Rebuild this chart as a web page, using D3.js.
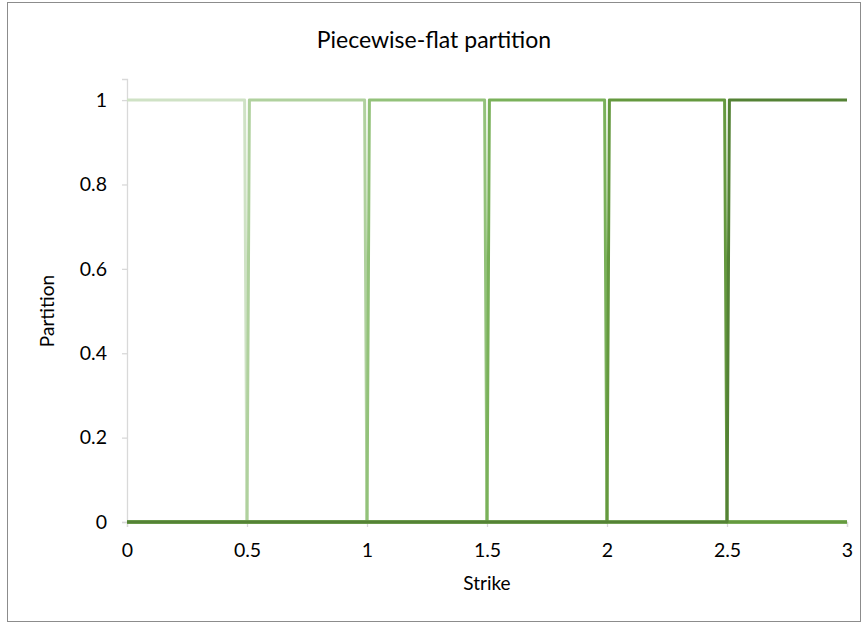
<!DOCTYPE html>
<html><head><meta charset="utf-8">
<script src="https://cdn.jsdelivr.net/npm/d3@7"></script>
<style>body{margin:0;background:#fff}svg{display:block}text{font-family:Lato,"Liberation Sans",sans-serif;fill:#000}</style>
</head><body>
<script>
// Data: strike breakpoints and partition values per series
const strike1 = [0, 0.49, 0.50, 3.00];
const part1   = [1, 1, 0, 0];
const strike2 = [0, 0.50, 0.51, 0.99, 1.00, 3.00];
const part2   = [0, 0, 1, 1, 0, 0];
const strike3 = [0, 1.00, 1.01, 1.49, 1.50, 3.00];
const part3   = [0, 0, 1, 1, 0, 0];
const strike4 = [0, 1.50, 1.51, 1.99, 2.00, 3.00];
const part4   = [0, 0, 1, 1, 0, 0];
const strike5 = [0, 2.00, 2.01, 2.49, 2.50, 3.00];
const part5   = [0, 0, 1, 1, 0, 0];
const strike6 = [0, 2.50, 2.51, 3.00];
const part6   = [0, 0, 1, 1];
const xTicks = [0, 0.5, 1, 1.5, 2, 2.5, 3];
const yTicks = [0, 0.2, 0.4, 0.6, 0.8, 1];
const colors = ["#cfe2c5", "#b0d19e", "#93c27a", "#7ab15a", "#65993f", "#548235"];

const seriesX = [strike1, strike2, strike3, strike4, strike5, strike6];
const seriesY = [part1, part2, part3, part4, part5, part6];

const W = 868, H = 624;
const svg = d3.select("body").append("svg").attr("width", W).attr("height", H);
svg.append("rect").attr("x", 7.5).attr("y", 2.5).attr("width", 853).attr("height", 619)
  .attr("fill", "#fff").attr("stroke", "#8c8c8c").attr("stroke-width", 1);

const x = d3.scaleLinear().domain([0, 3]).range([127, 847]);
const y = d3.scaleLinear().domain([0, 1.05]).range([522, 79]);

const FONT = "Lato, 'Liberation Sans', sans-serif";

// title
svg.append("text").attr("x", 434).attr("y", 48).attr("text-anchor", "middle")
  .style("font-size", "23px").text("Piecewise-flat partition");

// y axis
const ya = svg.append("g").attr("transform", `translate(${x(0)},0)`)
  .call(d3.axisLeft(y).tickValues(yTicks).tickSize(5).tickPadding(15).tickFormat(d3.format("~g")));
ya.select(".domain").attr("stroke", "#d9d9d9").attr("stroke-width", 1.3);
ya.selectAll(".tick line").attr("stroke", "#d9d9d9").attr("stroke-width", 1.3);
ya.selectAll("text").style("font-size", "19.5px").attr("fill", "#000").style("font-family", FONT);

// x axis
const xa = svg.append("g").attr("transform", `translate(0,${y(0)})`)
  .call(d3.axisBottom(x).tickValues(xTicks).tickSize(5).tickPadding(16).tickFormat(d3.format("~g")));
xa.select(".domain").attr("stroke", "#d9d9d9").attr("stroke-width", 1.3);
xa.selectAll(".tick line").attr("stroke", "#d9d9d9").attr("stroke-width", 1.3);
xa.selectAll("text").style("font-size", "19.5px").attr("fill", "#000").style("font-family", FONT);

// axis titles
svg.append("text").attr("x", x(1.5)).attr("y", 590).attr("text-anchor", "middle")
  .style("font-size", "19px").text("Strike");
svg.append("text").attr("transform", `translate(54,${y(0.5)}) rotate(-90)`).attr("text-anchor", "middle")
  .style("font-size", "19px").text("Partition");

// lines
const line = d3.line().x(d => x(d[0])).y(d => y(d[1]));
seriesX.forEach((xs, i) => {
  const pts = xs.map((v, j) => [v, seriesY[i][j]]);
  svg.append("path").datum(pts).attr("d", line).attr("fill", "none")
    .attr("stroke", colors[i]).attr("stroke-width", 3).attr("stroke-linejoin", "round");
});
</script>
</body></html>
